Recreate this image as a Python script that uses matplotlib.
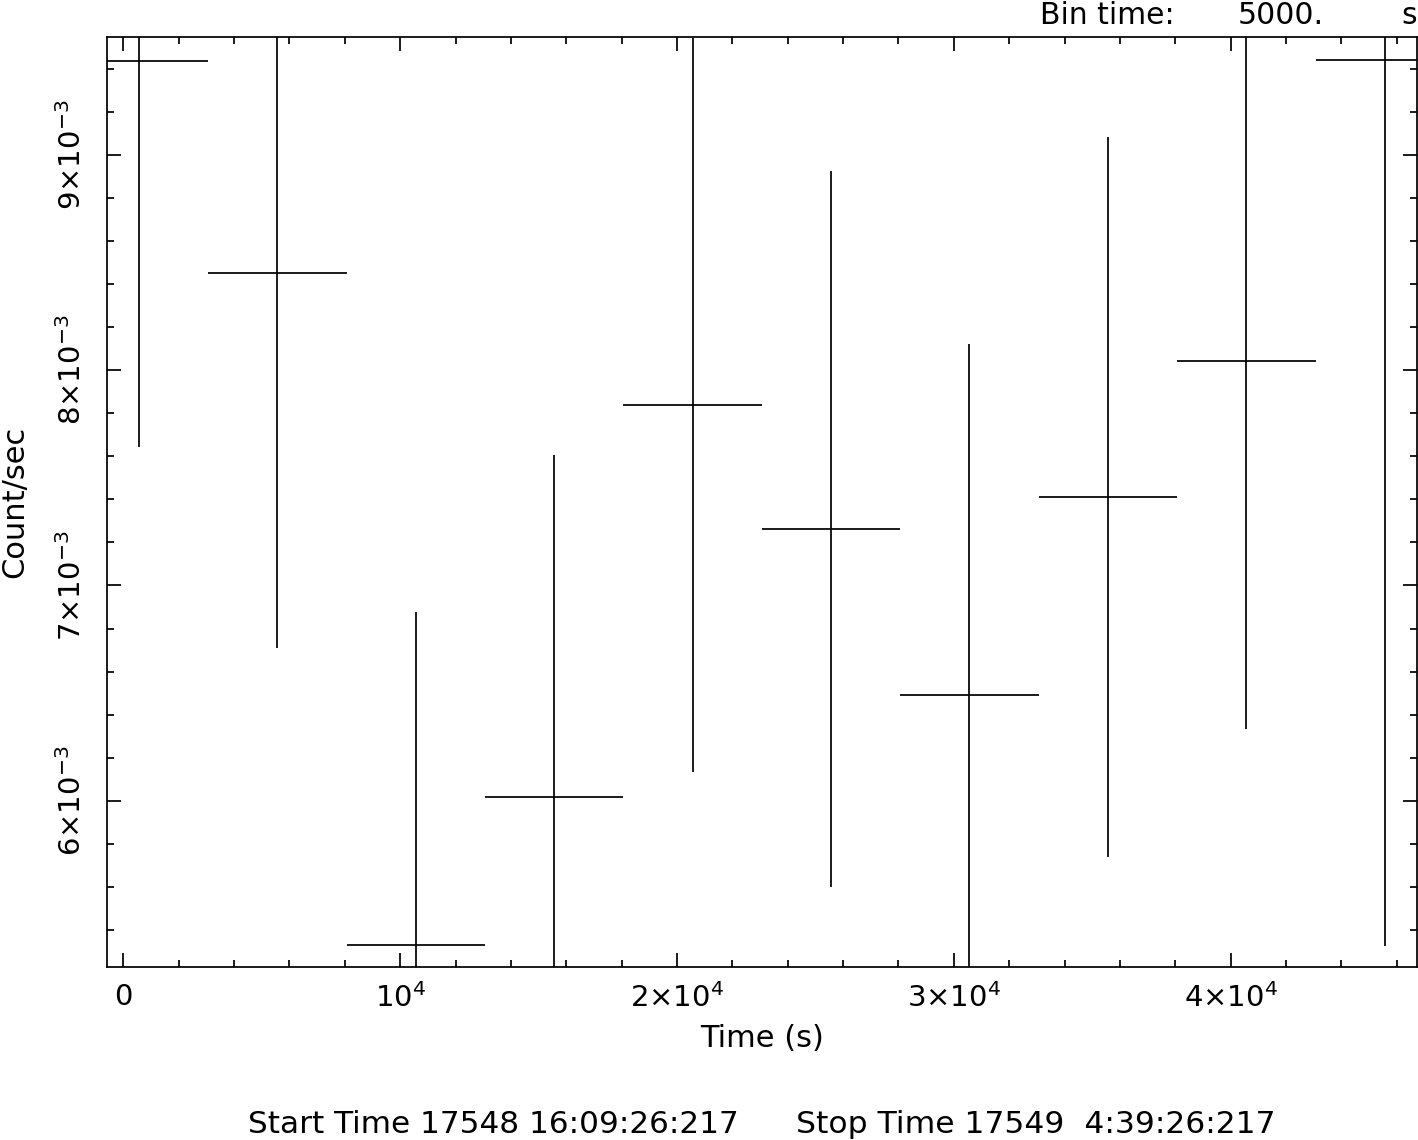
import matplotlib
matplotlib.use('Agg')
import matplotlib.pyplot as plt
from matplotlib.ticker import MultipleLocator

# light curve, 5000 s bins
time = [565, 5565, 10565, 15565, 20565, 25565, 30565, 35565, 40565, 45565]
half_bin = [2500] * 10
rate = [9.435e-3, 8.451e-3, 5.332e-3, 6.020e-3, 7.838e-3,
        7.262e-3, 6.492e-3, 7.411e-3, 8.042e-3, 9.440e-3]
rate_err = [1.792e-3, 1.741e-3, 1.544e-3, 1.586e-3, 1.702e-3,
            1.662e-3, 1.629e-3, 1.673e-3, 1.710e-3, 4.114e-3]

xticks = [0, 10000, 20000, 30000, 40000]
xlabels = ['0', r'$10^{4}$', r'$2{\times}10^{4}$', r'$3{\times}10^{4}$', r'$4{\times}10^{4}$']
yticks = [6e-3, 7e-3, 8e-3, 9e-3]
ylabels = [r'$6{\times}10^{-3}$', r'$7{\times}10^{-3}$', r'$8{\times}10^{-3}$', r'$9{\times}10^{-3}$']

plt.rcParams['mathtext.default'] = 'regular'
plt.rcParams['font.family'] = 'DejaVu Sans'

W, H = 1418, 1140
fig = plt.figure(figsize=(W / 100, H / 100), dpi=100)
ax = fig.add_axes([106.7 / W, (H - 966.7) / H, 1310 / W, 930 / H])

ax.errorbar(time, rate, xerr=half_bin, yerr=rate_err, fmt='none',
            ecolor='k', elinewidth=1.25, capsize=0)

ax.set_xlim(-600, 46720)
ax.set_ylim(5.230e-3, 9.548e-3)

ax.set_xticks(xticks)
ax.set_xticklabels(xlabels, fontsize=21)
ax.set_yticks(yticks)
ax.set_yticklabels(ylabels, fontsize=21, rotation=90, va='center')
ax.xaxis.set_minor_locator(MultipleLocator(2000))
ax.yaxis.set_minor_locator(MultipleLocator(0.2e-3))
ax.tick_params(which='both', direction='in', top=True, right=True, width=1.25)
ax.tick_params(axis='x', which='major', pad=12)
ax.tick_params(axis='y', which='major', pad=14)
ax.tick_params(which='major', length=10)
ax.tick_params(which='minor', length=5)
for s in ax.spines.values():
    s.set_linewidth(1.25)

ax.set_xlabel('Time (s)', fontsize=22, labelpad=8)
ax.set_ylabel('Count/sec', fontsize=22, labelpad=20)

fig.text(1040 / W, 1 - 24 / H, 'Bin time:', fontsize=21.5, ha='left', va='baseline')
fig.text(1238 / W, 1 - 24 / H, '5000.', fontsize=21.5, ha='left', va='baseline')
fig.text(1417 / W, 1 - 24 / H, 's', fontsize=21.5, ha='right', va='baseline')

fig.text(248 / W, 1 - 1133 / H, 'Start Time 17548 16:09:26:217', fontsize=22.4,
         ha='left', va='baseline')
fig.text(1275 / W, 1 - 1133 / H, 'Stop Time 17549  4:39:26:217', fontsize=22.6,
         ha='right', va='baseline')

fig.savefig('out.png', dpi=100)
